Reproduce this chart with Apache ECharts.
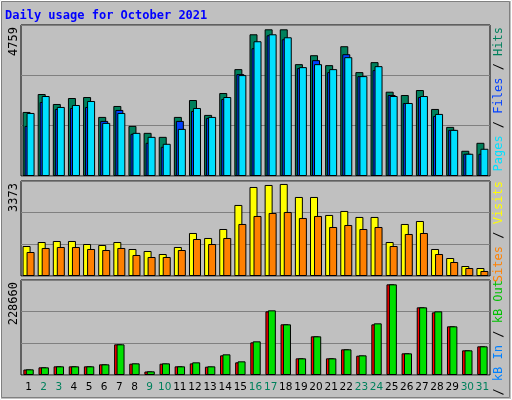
<!DOCTYPE html>
<html>
<head>
<meta charset="utf-8">
<script src="https://cdn.jsdelivr.net/npm/echarts@6/dist/echarts.min.js"></script>
<style>html,body{margin:0;padding:0;background:#c0c0c0;}#chart{width:512px;height:400px;}</style>
</head>
<body>
<div id="chart"></div>
<script>
// day labels and weekend days (drawn in green)
const days = ['1','2','3','4','5','6','7','8','9','10','11','12','13','14','15','16','17','18','19','20','21','22','23','24','25','26','27','28','29','30','31'];
const weekends = ['2','3','9','10','16','17','23','24','30','31'];

const hits = [2019,2584,2270,2458,2489,1862,2207,1579,1360,1234,1862,2395,1925,2615,3368,4466,4623,4623,3525,3807,3494,4090,3274,3588,2657,2552,2709,2113,1548,795,1046];
const files = [1579,2333,2113,2144,2176,1736,2082,1328,1046,920,1736,2050,1831,2427,3211,4027,4435,4310,3400,3651,3274,3839,3148,3337,2552,2301,2489,1893,1454,701,701];
const pages = [1987,2521,2176,2238,2364,1674,1987,1360,1234,1015,1485,2144,1862,2489,3180,4247,4466,4372,3431,3525,3368,3745,3148,3462,2521,2301,2521,1956,1454,701,858];

const visits = [1065,1207,1243,1243,1136,1101,1207,959,888,781,1030,1527,1350,1669,2522,3161,3232,3268,2806,2806,2167,2309,2096,2096,1207,1847,1953,959,639,355,284];
const sites = [852,995,1030,1030,959,923,995,746,675,675,923,1314,1136,1350,1847,2131,2238,2273,2060,2131,1740,1811,1669,1740,1065,1492,1527,781,497,284,178];

const kbFiles = [13200,18450,20860,20860,20860,25670,73810,27200,8400,27200,20860,28000,20000,47300,30500,78600,153200,122000,40110,93070,40110,61780,46500,121900,218230,52150,162870,150800,117140,59370,69000];
const kbOut = [13640,18450,20860,20860,20860,25670,73810,28080,8830,28080,20860,30490,20860,49740,32890,81030,155650,121950,40110,93070,40110,61780,47340,124360,218230,52150,162870,153240,117140,59370,69000];

const maxTop = 4759, maxMid = 3373, maxBot = 228660;

const chart = echarts.init(document.getElementById('chart'));
const mono = 'DejaVu Sans Mono';
const grids = [
  { left: 21, right: 22, top: 25, height: 151 },
  { left: 21, right: 22, top: 181, height: 95 },
  { left: 21, right: 22, top: 280, height: 95 }
].map(g => Object.assign(g, { show: true, backgroundColor: '#c0c0c0', borderColor: '#000', borderWidth: 1 }));

const xAxes = [0, 1, 2].map(i => ({
  type: 'category', gridIndex: i, data: days,
  axisLine: { show: false }, axisTick: { show: false },
  axisLabel: {
    show: i === 2, interval: 0, hideOverlap: false, margin: 7,
    fontFamily: 'DejaVu Sans', fontSize: 10.5,
    color: v => weekends.includes(v) ? '#00805c' : '#000'
  }
}));
const yAxes = [maxTop, maxMid, maxBot].map((m, i) => ({
  type: 'value', gridIndex: i, min: 0, max: m, interval: m / 3,
  axisLabel: { show: false }, axisLine: { show: false }, axisTick: { show: false },
  splitLine: { lineStyle: { color: '#808080', width: 1 } }
}));

const bar = (name, data, idx, color, gap) => ({
  name, type: 'bar', data, xAxisIndex: idx, yAxisIndex: idx,
  barWidth: 8, barGap: gap, animation: false,
  itemStyle: { color, borderColor: '#000', borderWidth: 1 }
});

const rotText = (x, y, text, rich) => ({
  type: 'text', x, y, rotation: Math.PI / 2,
  style: { text, rich, fontFamily: mono, fontSize: 12, align: 'right', verticalAlign: 'middle' }
});

chart.setOption({
  backgroundColor: '#c0c0c0',
  grid: grids,
  xAxis: xAxes,
  yAxis: yAxes,
  series: [
    bar('Hits', hits, 0, '#00805c', '-75%'),
    bar('Files', files, 0, '#0040ff', '-75%'),
    bar('Pages', pages, 0, '#00e0ff', '-75%'),
    bar('Visits', visits, 1, '#ffff00', '-50%'),
    bar('Sites', sites, 1, '#ff8000', '-50%'),
    bar('kB F', kbFiles, 2, '#ff0000', '-70%'),
    bar('kB Out', kbOut, 2, '#00e000', '-70%')
  ],
  graphic: [
    { type: 'rect', shape: { x: 0.5, y: 0.5, width: 511, height: 399 }, style: { fill: null, stroke: '#ffffff', lineWidth: 1 } },
    { type: 'rect', shape: { x: 1.5, y: 1.5, width: 508, height: 396 }, style: { fill: null, stroke: '#808080', lineWidth: 1 } },
    { type: 'text', x: 5, y: 10, style: { text: 'Daily usage for October 2021', fontFamily: mono, fontWeight: 'bold', fontSize: 12, fill: '#0000ff' } },
    rotText(14, 27, '4759', { }),
    rotText(14, 183, '3373', { }),
    rotText(14, 282, '228660', { }),
    rotText(499, 27, '{c|Pages} / {b|Files} / {h|Hits}', {
      c: { fill: '#00e0ff', fontFamily: mono, fontSize: 12 },
      b: { fill: '#0040ff', fontFamily: mono, fontSize: 12 },
      h: { fill: '#00805c', fontFamily: mono, fontSize: 12 }
    }),
    rotText(499, 181, '{s|Sites} / {v|Visits}', {
      s: { fill: '#ff8000', fontFamily: mono, fontSize: 12 },
      v: { fill: '#ffff00', fontFamily: mono, fontSize: 12 }
    }),
    rotText(499, 280, '{f|kB F} / {i|kB In} / {o|kB Out}', {
      f: { fill: '#ff0000', fontFamily: mono, fontSize: 12 },
      i: { fill: '#0080ff', fontFamily: mono, fontSize: 12 },
      o: { fill: '#00c000', fontFamily: mono, fontSize: 12 }
    })
  ]
});
</script>
</body>
</html>
